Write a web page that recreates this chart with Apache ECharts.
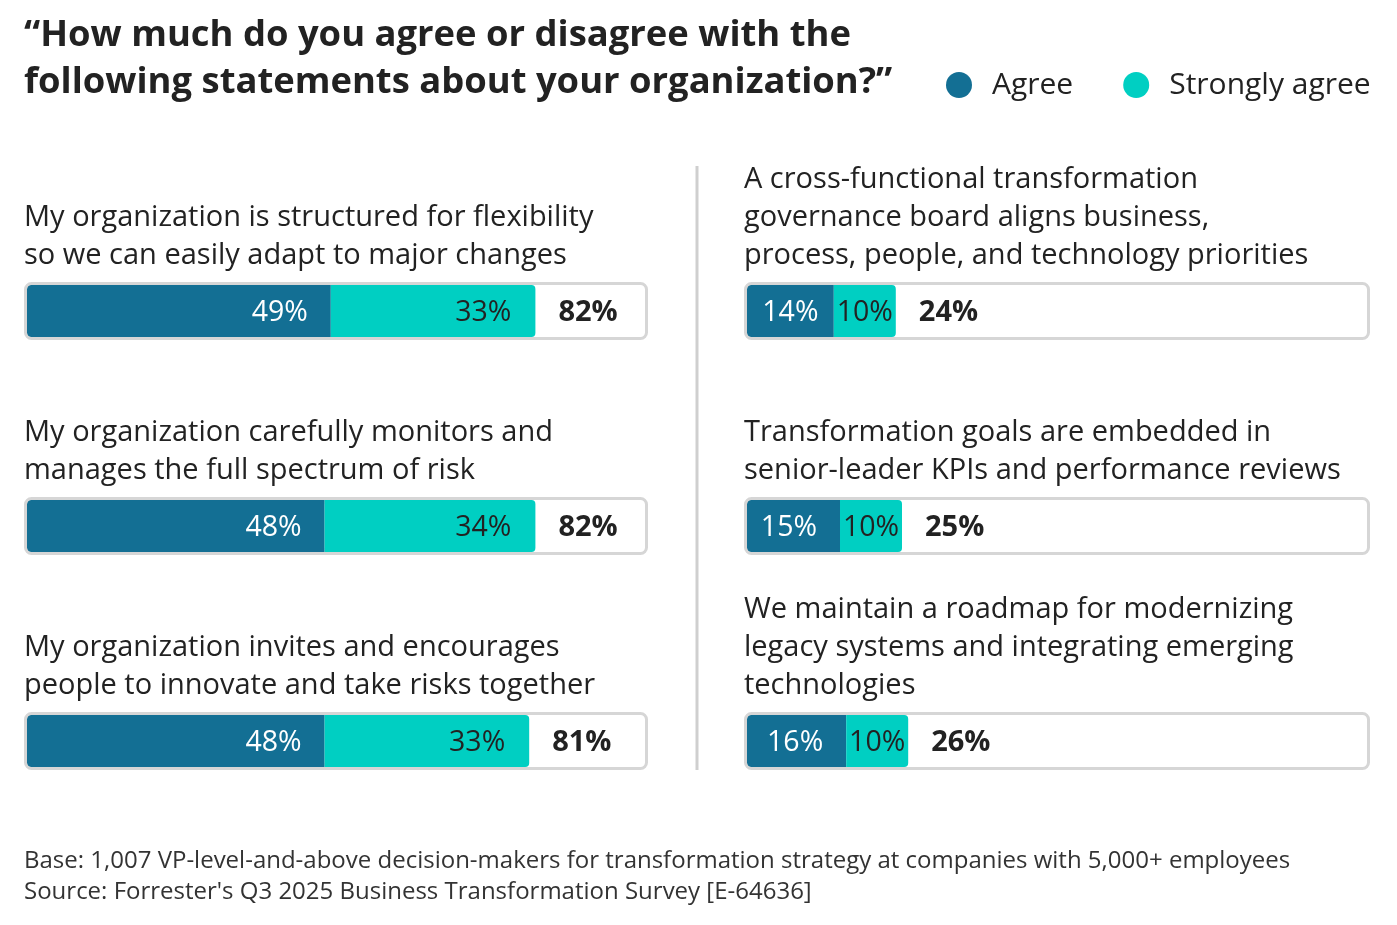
<!DOCTYPE html>
<html lang="en">
<head>
    <meta charset="UTF-8">
    <title>Business transformation survey</title>
    <script type="text/javascript" src="https://cdn.jsdelivr.net/npm/echarts@6/dist/echarts.min.js"></script>
    <style>
        html, body { margin: 0; padding: 0; background: #fff; }
    </style>
</head>

<body>
<div id="chartmain" style="width:1397px;height:925px"></div>
<script>
    // data
    var statements = [
        'My organization is structured for flexibility\nso we can easily adapt to major changes',
        'My organization carefully monitors and\nmanages the full spectrum of risk',
        'My organization invites and encourages\npeople to innovate and take risks together',
        'A cross-functional transformation\ngovernance board aligns business,\nprocess, people, and technology priorities',
        'Transformation goals are embedded in\nsenior-leader KPIs and performance reviews',
        'We maintain a roadmap for modernizing\nlegacy systems and integrating emerging\ntechnologies'
    ];
    var agree    = [49, 48, 48, 14, 15, 16];
    var strongly = [33, 34, 33, 10, 10, 10];
    var totals   = [82, 82, 81, 24, 25, 26];

    var FONT = 'Open Sans';
    var DARK = '#136f94';
    var TEAL = '#00cfc2';
    var INK  = '#222222';

    var colLeft = [27, 747];
    var frameW = [621, 623];
    var rowTop = [285, 500, 715];
    var barW = 620, barH = 52;

    var grids = [], xAxes = [], yAxes = [], series = [], titles = [], graphics = [];

    function labelFor(v, color, dist) {
        // narrow segments get a centred label, wide ones sit at the right end
        var narrow = v * barW / 100 < 90;
        return {
            show: true,
            position: narrow ? 'inside' : 'insideRight',
            distance: dist,
            offset: [0, 2],
            color: color,
            fontFamily: FONT,
            fontSize: 28.5,
            formatter: '{c}%'
        };
    }

    titles.push({
        text: '\u201cHow much do you agree or disagree with the\nfollowing statements about your organization?\u201d',
        left: 24, top: 12, padding: 0,
        textStyle: { fontFamily: FONT, fontSize: 36.4, fontWeight: 'bold', color: INK, lineHeight: 47 }
    });
    titles.push({
        text: 'Base: 1,007 VP-level-and-above decision-makers for transformation strategy at companies with 5,000+ employees\nSource: Forrester\'s Q3 2025 Business Transformation Survey [E-64636]',
        left: 24, top: 846, padding: 0,
        textStyle: { fontFamily: FONT, fontSize: 24, fontWeight: 'normal', color: '#333', lineHeight: 31 }
    });

    for (var i = 0; i < statements.length; i++) {
        var col = Math.floor(i / 3), row = i % 3;
        var gx = colLeft[col], gy = rowTop[row];
        var nLines = statements[i].split('\n').length;

        grids.push({ left: gx, top: gy, width: barW, height: barH });
        xAxes.push({ gridIndex: i, type: 'value', min: 0, max: 100, show: false });
        yAxes.push({ gridIndex: i, type: 'category', data: ['s' + i], show: false });

        titles.push({
            text: statements[i],
            left: gx - 3,
            top: gy - 1 - 28 - (nLines - 1) * 38 - 19,
            padding: 0,
            textStyle: { fontFamily: FONT, fontSize: 29, fontWeight: 'normal', color: INK, lineHeight: 38 }
        });

        graphics.push({
            type: 'rect', z: 5,
            shape: { x: gx - 1.5, y: gy - 1.5, width: frameW[col], height: barH + 3, r: 6 },
            style: { fill: 'none', stroke: '#d6d6d6', lineWidth: 3 }
        });

        series.push({
            name: 'Agree', type: 'bar', stack: 'g' + i,
            xAxisIndex: i, yAxisIndex: i, barWidth: barH, barGap: '-100%', z: 3,
            itemStyle: { color: DARK, borderRadius: [4, 0, 0, 4] },
            label: labelFor(agree[i], '#fff', 23),
            data: [agree[i]]
        });
        series.push({
            name: 'Strongly agree', type: 'bar', stack: 'g' + i,
            xAxisIndex: i, yAxisIndex: i, barWidth: barH, barGap: '-100%', z: 3,
            itemStyle: { color: TEAL, borderRadius: [0, 4, 4, 0] },
            label: labelFor(strongly[i], INK, 24),
            data: [strongly[i]]
        });
        // invisible bar carrying the total label just past the stack
        series.push({
            name: 'Total', type: 'bar',
            xAxisIndex: i, yAxisIndex: i, barWidth: barH, barGap: '-100%', z: 1,
            silent: true,
            itemStyle: { color: 'rgba(0,0,0,0)' },
            label: {
                show: true, position: 'right', distance: 23, offset: [0, 2],
                color: INK, fontFamily: FONT, fontSize: 29, fontWeight: 'bold',
                formatter: '{c}%'
            },
            data: [totals[i]]
        });
    }

    graphics.push({
        type: 'line',
        shape: { x1: 697, y1: 166, x2: 697, y2: 770 },
        style: { stroke: '#cfcfcf', lineWidth: 3 }
    });

    var option = {
        animation: false,
        title: titles,
        legend: {
            data: ['Agree', 'Strongly agree'],
            left: 946, top: 70,
            padding: 0,
            icon: 'circle',
            itemWidth: 26, itemHeight: 26,
            itemGap: 50,
            textStyle: { fontFamily: FONT, fontSize: 30, color: INK, padding: [0, 0, 0, 15] }
        },
        grid: grids,
        xAxis: xAxes,
        yAxis: yAxes,
        series: series,
        graphic: graphics
    };

    var myChart = echarts.init(document.getElementById('chartmain'));
    myChart.setOption(option);
</script>
</body>
</html>
